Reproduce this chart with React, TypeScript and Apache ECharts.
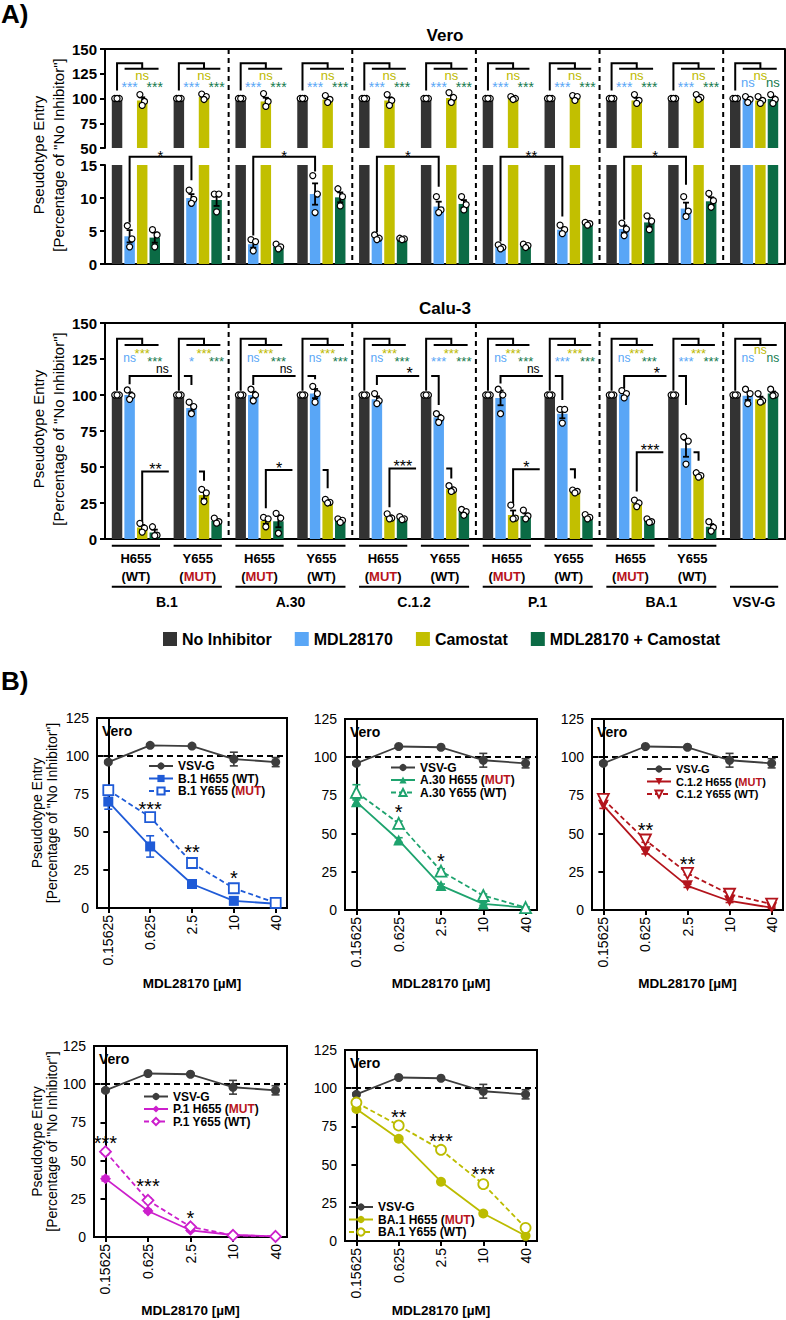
import React, { useEffect, useRef } from "react";
import * as echarts from "echarts";

const FONT = "'Liberation Sans', Arial, Helvetica, sans-serif";
const RED_TAG = "#b8141c";

// ---------------- Panel A : categories ----------------
const categories = ["B.1 H655", "B.1 Y655", "A.30 H655", "A.30 Y655", "C.1.2 H655", "C.1.2 Y655", "P.1 H655", "P.1 Y655", "BA.1 H655", "BA.1 Y655", "VSV-G"];
const residueLabels = ["H655", "Y655", "H655", "Y655", "H655", "Y655", "H655", "Y655", "H655", "Y655", ""];
const residueTags = ["WT", "MUT", "MUT", "WT", "MUT", "WT", "MUT", "WT", "MUT", "WT", ""];
const groupLabels = ["B.1", "A.30", "C.1.2", "P.1", "BA.1", "VSV-G"];
const treatments = ["No Inhibitor", "MDL28170", "Camostat", "MDL28170 + Camostat"];
const treatmentColors = ["#333333", "#59a6f6", "#c2bf00", "#0b6b45"];
const sigTextColors = ["#000000", "#59a6f6", "#bdb900", "#137a4e"];

// ---------------- Panel A : Vero ----------------
const veroNoInhibitor = [100, 100, 100, 100, 100, 100, 100, 100, 100, 100, 100];
const veroMDL = [4.2, 10.0, 3.0, 10.6, 4.0, 8.7, 2.6, 5.2, 5.3, 8.4, 99];
const veroCamostat = [98, 101.5, 97, 99, 98, 100.5, 100, 100.5, 98, 100, 98];
const veroCombo = [4.0, 9.7, 2.6, 10.1, 3.8, 9.1, 2.8, 6.1, 6.3, 9.5, 99.5];

const veroNoInhibitorReps = [[100, 100, 100], [100, 100, 100], [100, 100, 100], [100, 100, 100], [100, 100, 100], [100, 100, 100], [100, 100, 100], [100, 100, 100], [100, 100, 100], [100, 100, 100], [100, 100, 100]];
const veroMDLReps = [[5.8, 3.8, 2.6], [11.2, 9.8, 9.2], [3.7, 3.4, 2.0], [13.4, 10.6, 7.8], [4.4, 3.9, 3.7], [10.2, 8.2, 7.8], [2.9, 2.5, 2.3], [5.9, 5.2, 4.6], [6.2, 5.3, 4.3], [10.2, 8.0, 7.2], [102, 99, 96]];
const veroCamostatReps = [[104, 97, 93], [104.5, 102, 99], [105, 97, 92], [103, 99, 96], [104, 98, 93], [106, 101, 96], [102, 100, 99], [103, 102, 98], [104, 98, 95], [104, 101, 99], [102, 98, 95]];
const veroComboReps = [[5.2, 4.4, 2.6], [10.6, 10.6, 7.9], [3.0, 2.6, 2.3], [11.4, 10.2, 8.8], [3.9, 3.8, 3.7], [10.2, 9.0, 8.2], [3.0, 2.8, 2.5], [6.3, 6.1, 5.9], [7.3, 6.5, 5.2], [10.7, 9.6, 8.6], [104, 99, 95]];

const veroSigCam = ["ns", "ns", "ns", "ns", "ns", "ns", "ns", "ns", "ns", "ns", "ns"];
const veroSigMDL = ["***", "***", "***", "***", "***", "***", "***", "***", "***", "***", "ns"];
const veroSigCombo = ["***", "***", "***", "***", "***", "***", "***", "***", "***", "***", "ns"];
const veroPairSig = ["*", "*", "*", "**", "*"];
const veroPairFrom = [6.3, 4.3, 4.8, 3.4, 6.7];
const veroPairTo = [12.7, 14, 11.7, 7.2, 12];

// ---------------- Panel A : Calu-3 ----------------
const caluNoInhibitor = [100, 100, 100, 100, 100, 100, 100, 100, 100, 100, 100];
const caluMDL = [100, 91, 100, 101, 97, 84.5, 98, 87, 100.5, 63, 99.5];
const caluCamostat = [8, 30.5, 12.5, 26, 15.3, 34.7, 16.7, 33, 24.8, 44.5, 97];
const caluCombo = [4.5, 12.5, 12.3, 13, 14.3, 18.7, 16, 15.3, 12.5, 8.5, 101];

const caluNoInhibitorReps = [[100, 100, 100], [100, 100, 100], [100, 100, 100], [100, 100, 100], [100, 100, 100], [100, 100, 100], [100, 100, 100], [100, 100, 100], [100, 100, 100], [100, 100, 100], [100, 100, 100]];
const caluMDLReps = [[103.5, 99.5, 97], [95, 92, 87], [104, 100, 96], [106, 101, 95], [101, 96, 94], [87, 84, 81], [104, 100, 87], [90, 90, 80.5], [103, 101, 98], [71, 68, 52], [104, 101, 94]];
const caluCamostatReps = [[10.9, 7.5, 4.8], [34.5, 32, 26], [15, 14, 8.5], [27.5, 25.5, 25], [17.5, 14.5, 14], [37, 34, 33], [23.5, 14.5, 14], [34, 33, 32], [27, 25, 22.5], [46, 44, 43], [101, 96, 95]];
const caluComboReps = [[8.5, 2.6, 2.3], [14.5, 12, 11], [17.8, 14.5, 4], [14, 13, 11.5], [15.5, 14, 13.5], [20.5, 19, 16.5], [20, 16, 14], [17, 15, 14], [14, 12, 11.5], [12, 8, 5.5], [104, 100, 99.5]];

const caluSigCam = ["***", "***", "***", "***", "***", "***", "***", "***", "***", "***", "ns"];
const caluSigMDL = ["ns", "*", "ns", "ns", "ns", "***", "ns", "***", "ns", "***", "ns"];
const caluSigCombo = ["***", "***", "***", "***", "***", "***", "***", "***", "***", "***", "ns"];
const caluMdlPairSig = ["ns", "ns", "*", "ns", "*"];
const caluMdlPairFrom = [107.4, 107, 107, 108, 104.6];
const caluMdlPairTo = [107, 111, 93, 96.5, 93];
const caluCamPairSig = ["**", "*", "***", "*", "***"];
const caluCamPairFrom = [10.9, 21.3, 22, 23.6, 32.9];
const caluCamPairLevel = [46.8, 48, 49, 48.4, 60.2];
const caluCamPairTo = [40.5, 35.2, 42, 42, 54.4];

// ---------------- Panel B ----------------
const concLabels = ["0.15625", "0.625", "2.5", "10", "40"];
const vsvgEntry = [96, 107, 106.5, 98, 96];
const vsvgErr = [1, 0.8, 0.8, 4.5, 3];
const b1H655 = [70, 40.5, 15.8, 4.7, 2.8];
const b1H655Err = [5, 7, 1, 0.8, 0.5];
const b1Y655 = [77.5, 59.8, 29.6, 13, 3.4];
const b1Y655Err = [3, 1.5, 1.5, 1, 0.5];
const a30H655 = [70.8, 45.8, 16, 4, 1.6];
const a30H655Err = [2, 1.5, 1, 1, 0.5];
const a30Y655 = [77, 56.7, 25.5, 9.5, 1.6];
const a30Y655Err = [5, 1.5, 1.5, 1, 0.5];
const c12H655 = [68.5, 38.2, 15.8, 5.9, 1.5];
const c12H655Err = [2, 1.5, 1, 1, 0.5];
const c12Y655 = [72.4, 45.8, 24, 10.3, 3.9];
const c12Y655Err = [1.5, 1.5, 1, 1, 0.5];
const p1H655 = [38.2, 17, 4.4, 1.3, 0.4];
const p1H655Err = [1.5, 1, 0.8, 0.5, 0.3];
const p1Y655 = [55.8, 24, 6.7, 1.1, 0.4];
const p1Y655Err = [1.5, 1.5, 1, 0.5, 0.3];
const ba1H655 = [86.4, 66.9, 38.8, 18, 3.4];
const ba1H655Err = [1.5, 1, 1, 1, 0.5];
const ba1Y655 = [90.6, 75.6, 59.7, 37.2, 8.6];
const ba1Y655Err = [1.5, 1, 1, 1, 1];
const b1Stars = [[1, 68, "***"], [2, 40, "**"], [3, 22.8, "*"]];
const a30Stars = [[1, 66.8, "*"], [2, 35, "*"]];
const c12Stars = [[1, 55, "**"], [2, 32.7, "**"]];
const p1Stars = [[0, 64.6, "***"], [1, 36.5, "***"], [2, 15.5, "*"]];
const ba1Stars = [[1, 84, "**"], [2, 68.4, "***"], [3, 47, "***"]];

// ---------------- helpers ----------------
const PITCH = ((1 - 0.22) / 4.6) * 1.2; // bar slot distance in category units
const U = (c: number, s: number, adj = 0) => c + (s - 1.5 + adj) * PITCH;
const DOT_OFF = [-2.3, 2.3, 0];

function semOf(r: number[]) {
  const m = r.reduce((a, b) => a + b, 0) / r.length;
  const v = r.reduce((a, b) => a + (b - m) * (b - m), 0) / (r.length - 1);
  return Math.sqrt(v / r.length);
}

function textNode(x: number, y: number, t: string, color: string, fs: number, fw = "normal", align = "center") {
  let dy = 0;
  if (/^\*+$/.test(t)) dy = 0.22 * fs;
  else if (/^[a-z]+$/.test(t)) dy = -0.09 * fs;
  return {
    type: "text",
    x,
    y: y + dy,
    style: {
      text: t, fill: color, fontSize: fs, fontWeight: fw, fontFamily: FONT,
      align, verticalAlign: "middle", textAlign: align, textVerticalAlign: "middle",
    },
  };
}

function annSeries(xi: number, yi: number, anns: any[]) {
  return {
    type: "custom", xAxisIndex: xi, yAxisIndex: yi, z: 1, silent: true, clip: false,
    data: anns.map((_, i) => [0, 0, i]),
    renderItem: (params: any, api: any) => {
      const a = anns[params.dataIndex];
      const cs = params.coordSys;
      const o = api.coord([0, 0]);
      const band = api.coord([1, 0])[0] - o[0];
      const X = (u: number) => o[0] + u * band;
      const Y = (v: number) => api.coord([0, v])[1];
      const bottom = cs.y + cs.height;
      if (a.k === "poly") {
        return { type: "polyline", shape: { points: a.pts.map((p: number[]) => [X(p[0]), Y(p[1])]) }, style: { stroke: "#000", lineWidth: 2, fill: null } };
      }
      if (a.k === "text") return textNode(X(a.u), Y(a.v), a.t, a.c, a.fs, a.fw || "normal");
      if (a.k === "frame") {
        return { type: "line", shape: { x1: X(a.u), y1: cs.y - (a.up || 0), x2: X(a.u), y2: bottom + (a.down || 0) }, style: { stroke: "#000", lineWidth: 2, lineDash: a.dash ? [5, 4] : null } };
      }
      if (a.k === "uline") {
        return { type: "line", shape: { x1: X(a.u0), y1: bottom + a.dy, x2: X(a.u1), y2: bottom + a.dy }, style: { stroke: "#000", lineWidth: 2 } };
      }
      if (a.k === "utext") return textNode(X(a.u), bottom + a.dy, a.t, "#000", 14, "bold");
      return null;
    },
  };
}

function dotsSeries(xi: number, yi: number, lo: number, hi: number, means: number[][], reps: number[][][]) {
  const data: number[][] = [];
  means.forEach((arr, s) => arr.forEach((m, c) => data.push([c, m, s])));
  return {
    type: "custom", xAxisIndex: xi, yAxisIndex: yi, z: 4, silent: true, clip: false,
    data,
    renderItem: (params: any, api: any) => {
      const c = api.value(0), m = api.value(1), s = api.value(2);
      const r = reps[s][c];
      const o = api.coord([0, lo]);
      const band = api.coord([1, lo])[0] - o[0];
      const cx = o[0] + U(c, s) * band;
      const Y = (v: number) => api.coord([0, v])[1];
      const children: any[] = [];
      const e = semOf(r);
      const st = { stroke: "#000", lineWidth: 1.8 };
      if (e > 0.05 && m - e >= lo && m + e <= hi) {
        const y1 = Y(m + e), y2 = Y(m - e);
        children.push({ type: "line", shape: { x1: cx, y1, x2: cx, y2 }, style: st });
        children.push({ type: "line", shape: { x1: cx - 3, y1, x2: cx + 3, y2: y1 }, style: st });
        children.push({ type: "line", shape: { x1: cx - 3, y1: y2, x2: cx + 3, y2 }, style: st });
      }
      r.forEach((v, k) => {
        if (v >= lo && v <= hi) {
          children.push({ type: "circle", shape: { cx: cx + DOT_OFF[k], cy: Y(v), r: 3 }, style: { fill: "#fff", stroke: "#000", lineWidth: 1.2 } });
        }
      });
      return { type: "group", children };
    },
  };
}

function mainBrackets(cfg: any, cam: string[], mdl: string[], combo: string[], nsFs: number, starFs: number) {
  const out: any[] = [];
  const labs = [cam, mdl, combo];
  for (let c = 0; c < categories.length; c++) {
    out.push({ k: "poly", pts: [[U(c, 0), cfg.base], [U(c, 0), cfg.top], [U(c, 2), cfg.top], [U(c, 2), cfg.mid]] });
    out.push({ k: "poly", pts: [[U(c, 1, -0.4), cfg.mid], [U(c, 3, 0.3), cfg.mid]] });
    const pos = [[U(c, 2), cfg.camY], [U(c, 1), cfg.lowY], [U(c, 3), cfg.lowY]];
    labs.forEach((L, j) => {
      const t = L[c];
      out.push({ k: "text", u: pos[j][0], v: pos[j][1], t, c: sigTextColors[j === 0 ? 2 : j === 1 ? 1 : 3], fs: t.includes("*") ? starFs : nsFs });
    });
  }
  return out;
}

function frames(seps: number[], up: number, down: number) {
  const out: any[] = seps.map((u) => ({ k: "frame", u, dash: true, up, down }));
  out.push({ k: "frame", u: categories.length - 0.5, dash: false, up, down });
  return out;
}

const SEPS = [1.5, 3.5, 5.5, 7.5, 9.5];

function gText(x: number, y: number, text: string, fs: number, fw = "normal", align = "center", extra: any = {}) {
  return {
    type: "text", x, y, silent: true, ...extra,
    style: { text, fill: "#000", fontSize: fs, fontWeight: fw, fontFamily: FONT, align, verticalAlign: "middle", textAlign: align, textVerticalAlign: "middle", lineHeight: extra.lineHeight },
  };
}

function buildOption() {
  const veroMeans = [veroNoInhibitor, veroMDL, veroCamostat, veroCombo];
  const veroReps = [veroNoInhibitorReps, veroMDLReps, veroCamostatReps, veroComboReps];
  const caluMeans = [caluNoInhibitor, caluMDL, caluCamostat, caluCombo];
  const caluReps = [caluNoInhibitorReps, caluMDLReps, caluCamostatReps, caluComboReps];

  const gridBase = { containLabel: false, outerBoundsMode: "none" };
  const grids: any[] = [
    { ...gridBase, left: 105, top: 49, width: 680, height: 99 },
    { ...gridBase, left: 105, top: 165, width: 680, height: 99 },
    { ...gridBase, left: 105, top: 323, width: 680, height: 216, show: true, borderColor: "#000", borderWidth: 2 },
  ];
  const axisLine = { show: true, lineStyle: { color: "#000", width: 2 } };
  const yTick = { show: true, length: 5, inside: false, lineStyle: { color: "#000", width: 2 } };
  const yLabA = { color: "#000", fontSize: 15, fontWeight: "bold", margin: 8, fontFamily: FONT };
  const xAxes: any[] = [
    { type: "category", gridIndex: 0, data: categories, position: "top", axisLine, axisTick: { show: false }, axisLabel: { show: false }, splitLine: { show: false } },
    { type: "category", gridIndex: 1, data: categories, axisLine, axisTick: { show: false }, axisLabel: { show: false }, splitLine: { show: false } },
    {
      type: "category", gridIndex: 2, data: categories, axisLine, axisTick: { show: false }, splitLine: { show: false },
      axisLabel: {
        interval: 0, margin: 10, color: "#000", fontFamily: FONT, fontSize: 13, fontWeight: "bold", lineHeight: 18,
        formatter: (_v: string, i: number) => {
          if (!residueLabels[i]) return "";
          const tag = residueTags[i] === "MUT" ? `{r|MUT}` : `{p|${residueTags[i]}}`;
          return `{p|${residueLabels[i]}}\n{p|(}${tag}{p|)}`;
        },
        rich: {
          p: { color: "#000", fontSize: 13, fontWeight: "bold", fontFamily: FONT, lineHeight: 18 },
          r: { color: RED_TAG, fontSize: 13, fontWeight: "bold", fontFamily: FONT, lineHeight: 18 },
        },
      },
    },
  ];
  const yAxes: any[] = [
    { type: "value", gridIndex: 0, min: 50, max: 150, interval: 25, axisLine, axisTick: yTick, axisLabel: yLabA, splitLine: { show: false } },
    { type: "value", gridIndex: 1, min: 0, max: 15, interval: 5, axisLine, axisTick: yTick, axisLabel: yLabA, splitLine: { show: false } },
    { type: "value", gridIndex: 2, min: 0, max: 150, interval: 25, axisLine, axisTick: yTick, axisLabel: yLabA, splitLine: { show: false } },
  ];

  const series: any[] = [];
  // bars
  treatments.forEach((name, s) => {
    const common = { type: "bar", name, barGap: "20%", barCategoryGap: "22%", itemStyle: { color: treatmentColors[s] }, z: 2, silent: true };
    series.push({ ...common, xAxisIndex: 0, yAxisIndex: 0, data: veroMeans[s].map((v) => (v >= 50 ? v : "-")) });
    series.push({ ...common, xAxisIndex: 1, yAxisIndex: 1, data: veroMeans[s].slice() });
    series.push({ ...common, xAxisIndex: 2, yAxisIndex: 2, data: caluMeans[s].slice() });
  });
  series.push(dotsSeries(0, 0, 50, 150, veroMeans, veroReps));
  series.push(dotsSeries(1, 1, 0, 15, veroMeans, veroReps));
  series.push(dotsSeries(2, 2, 0, 150, caluMeans, caluReps));

  // Vero annotations (top segment)
  const veroTopAnn = [
    ...mainBrackets({ base: 108, top: 135.7, mid: 130, camY: 122, lowY: 115 }, veroSigCam, veroSigMDL, veroSigCombo, 13, 14),
    ...frames(SEPS, 0, 17),
  ];
  // Vero annotations (bottom segment)
  const veroBotAnn: any[] = [...frames(SEPS, 0, 0)];
  veroPairSig.forEach((t, g) => {
    const c = 2 * g;
    const lev = 16.26;
    veroBotAnn.push({ k: "poly", pts: [[U(c, 1), veroPairFrom[g]], [U(c, 1), lev], [U(c + 1, 1), lev], [U(c + 1, 1), veroPairTo[g]]] });
    veroBotAnn.push({ k: "text", u: (U(c, 1) + U(c + 1, 1)) / 2, v: 17.0, t, c: "#000", fs: 15 });
  });
  // Calu annotations
  const caluAnn: any[] = [
    ...mainBrackets({ base: 103, top: 139, mid: 134.7, camY: 130.6, lowY: 125 }, caluSigCam, caluSigMDL, caluSigCombo, 12, 13),
    ...frames(SEPS, 0, 0),
  ];
  caluMdlPairSig.forEach((t, g) => {
    const c = 2 * g;
    const lev = 113.2;
    caluAnn.push({ k: "poly", pts: [[U(c, 1), caluMdlPairFrom[g]], [U(c, 1), lev], [U(c + 1, 0, -0.55), lev]] });
    caluAnn.push({ k: "poly", pts: [[U(c + 1, 0, 0.4), lev], [U(c + 1, 1), lev], [U(c + 1, 1), caluMdlPairTo[g]]] });
    caluAnn.push({ k: "text", u: (U(c, 1) + U(c + 1, 1)) / 2 + 0.03, v: 117.2, t, c: "#000", fs: t.includes("*") ? 16 : 12 });
  });
  caluCamPairSig.forEach((t, g) => {
    const c = 2 * g;
    const lev = caluCamPairLevel[g];
    caluAnn.push({ k: "poly", pts: [[U(c, 2), caluCamPairFrom[g]], [U(c, 2), lev], [U(c + 1, 0, -0.8), lev]] });
    caluAnn.push({ k: "poly", pts: [[U(c + 1, 1, 0.6), lev], [U(c + 1, 2), lev], [U(c + 1, 2), caluCamPairTo[g]]] });
    caluAnn.push({ k: "text", u: (U(c, 2) + U(c + 1, 0, -0.8)) / 2, v: lev + 3.6, t, c: "#000", fs: 16 });
  });
  for (let c = 0; c < 10; c++) caluAnn.push({ k: "uline", u0: c - 0.39, u1: c + 0.39, dy: 6.7 });
  groupLabels.forEach((gl, g) => {
    const c0 = 2 * g;
    const c1 = g === 5 ? 10 : 2 * g + 1;
    const a = g === 5 ? 10 : c0;
    caluAnn.push({ k: "uline", u0: a - 0.39, u1: c1 + 0.39, dy: 47.7 });
    caluAnn.push({ k: "utext", u: (a + c1) / 2, dy: 62.5, t: gl });
  });
  series.push(annSeries(0, 0, veroTopAnn));
  series.push(annSeries(1, 1, veroBotAnn));
  series.push(annSeries(2, 2, caluAnn));

  const legends: any[] = [
    {
      data: treatments, left: 163, top: 631, orient: "horizontal", icon: "rect", itemWidth: 14, itemHeight: 14, itemGap: 23,
      selectedMode: false, padding: 0, textStyle: { fontFamily: FONT, fontSize: 16, fontWeight: "bold", color: "#000" },
    },
  ];

  const graphics: any[] = [
    gText(1, 14, "A)", 26, "bold", "left"),
    gText(445, 35, "Vero", 17, "bold"),
    gText(445, 308.5, "Calu-3", 17, "bold"),
    gText(48, 155, 'Pseudotype Entry\n[Percentage of "No Inhibitor"]', 15, "normal", "center", { rotation: Math.PI / 2, lineHeight: 20 }),
    gText(48, 429, 'Pseudotype Entry\n[Percentage of "No Inhibitor"]', 15, "normal", "center", { rotation: Math.PI / 2, lineHeight: 20 }),
    gText(1, 681, "B)", 26, "bold", "left"),
  ];

  // ---------------- Panel B ----------------
  const bCharts = [
    { strain: "B.1", color: "#1f5bd7", sym: "rect", rot: 0, size: 10, h: b1H655, hErr: b1H655Err, y: b1Y655, yErr: b1Y655Err, hTag: "WT", yTag: "MUT", stars: b1Stars,
      box: [97, 718, 190, 190], leg: [148, 760, 12], yTitle: true },
    { strain: "A.30", color: "#1ea36e", sym: "triangle", rot: 0, size: 11, h: a30H655, hErr: a30H655Err, y: a30Y655, yErr: a30Y655Err, hTag: "MUT", yTag: "WT", stars: a30Stars,
      box: [345, 719, 192, 191], leg: [390, 761.5, 12], yTitle: false },
    { strain: "C.1.2", color: "#b3141c", sym: "triangle", rot: 180, size: 11, h: c12H655, hErr: c12H655Err, y: c12Y655, yErr: c12Y655Err, hTag: "MUT", yTag: "WT", stars: c12Stars,
      box: [592, 719, 191, 191], leg: [646, 763, 11], yTitle: false },
    { strain: "P.1", color: "#cc1fcc", sym: "diamond", rot: 0, size: 11, h: p1H655, hErr: p1H655Err, y: p1Y655, yErr: p1Y655Err, hTag: "MUT", yTag: "WT", stars: p1Stars,
      box: [94, 1046, 193, 191], leg: [143, 1090.5, 12], yTitle: true },
    { strain: "BA.1", color: "#bcbc00", sym: "circle", rot: 0, size: 10, h: ba1H655, hErr: ba1H655Err, y: ba1Y655, yErr: ba1Y655Err, hTag: "MUT", yTag: "WT", stars: ba1Stars,
      box: [345, 1050, 192, 191], leg: [348, 1201, 12], yTitle: false },
  ];
  const VSV = "#3d3d3d";

  bCharts.forEach((ch, k) => {
    const gi = 3 + k;
    const [left, top, width, height] = ch.box;
    const titleY = k < 3 ? 983 : 1310.5;
    grids.push({ ...gridBase, left, top, width, height, show: true, borderColor: "#000", borderWidth: 2 });
    xAxes.push({
      type: "value", gridIndex: gi, min: -0.27, max: 4.27, axisLine, splitLine: { show: false },
      axisTick: { show: true, customValues: [0, 1, 2, 3, 4], length: 5, lineStyle: { color: "#000", width: 2 } },
      axisLabel: { customValues: [0, 1, 2, 3, 4], rotate: 90, margin: 7, color: "#000", fontSize: 14, fontFamily: FONT, formatter: (v: number) => concLabels[Math.round(v)] || "" },
      name: "MDL28170 [µM]", nameLocation: "middle", nameGap: titleY - 7 - (top + height), nameTextStyle: { color: "#000", fontSize: 13.5, fontWeight: "bold", fontFamily: FONT },
    });
    yAxes.push({
      type: "value", gridIndex: gi, min: 0, max: 125, interval: 25, axisLine, splitLine: { show: false },
      axisTick: yTick, axisLabel: { color: "#000", fontSize: 14, margin: 8, fontFamily: FONT },
    });
    const pts = (arr: number[]) => arr.map((v, i) => [i, v]);
    const hName = `${ch.strain} H655 (${ch.hTag})`;
    const yName = `${ch.strain} Y655 (${ch.yTag})`;
    series.push({
      type: "line", name: "VSV-G", xAxisIndex: gi, yAxisIndex: gi, data: pts(vsvgEntry), symbol: "circle", symbolSize: 9, color: VSV,
      lineStyle: { color: VSV, width: 1.8 }, itemStyle: { color: VSV }, z: 5, silent: true,
      markLine: { silent: true, symbol: ["none", "none"], label: { show: false }, lineStyle: { color: "#000", type: [6, 4], width: 1.8 }, data: [{ yAxis: 100 }] },
    });
    series.push({
      type: "line", name: hName, xAxisIndex: gi, yAxisIndex: gi, data: pts(ch.h), symbol: ch.sym, symbolRotate: ch.rot, symbolSize: ch.size, color: ch.color,
      lineStyle: { color: ch.color, width: 1.8 }, itemStyle: { color: ch.color }, z: 5, silent: true,
    });
    series.push({
      type: "line", name: yName, xAxisIndex: gi, yAxisIndex: gi, data: pts(ch.y), symbol: ch.sym, symbolRotate: ch.rot, symbolSize: ch.size, color: ch.color,
      lineStyle: { color: ch.color, width: 1.8, type: [5, 3] }, itemStyle: { color: "#fff", borderColor: ch.color, borderWidth: 1.8 }, z: 6, silent: true,
    });
    const errPairs: [number[], number[], string][] = [[vsvgEntry, vsvgErr, VSV], [ch.h, ch.hErr, ch.color], [ch.y, ch.yErr, ch.color]];
    errPairs.forEach(([means, errs, color]) => {
      series.push({
        type: "custom", xAxisIndex: gi, yAxisIndex: gi, z: 4, silent: true, clip: false,
        data: means.map((m, i) => [i, m, errs[i]]),
        renderItem: (_p: any, api: any) => {
          const i = api.value(0), m = api.value(1), e = api.value(2);
          const a = api.coord([i, m + e]), b = api.coord([i, m - e]);
          const x = a[0];
          const st = { stroke: color, lineWidth: 1.6 };
          return {
            type: "group", children: [
              { type: "line", shape: { x1: x, y1: a[1], x2: x, y2: b[1] }, style: st },
              { type: "line", shape: { x1: x - 4, y1: a[1], x2: x + 4, y2: a[1] }, style: st },
              { type: "line", shape: { x1: x - 4, y1: b[1], x2: x + 4, y2: b[1] }, style: st },
            ],
          };
        },
      });
    });
    const stars = ch.stars;
    series.push({
      type: "custom", xAxisIndex: gi, yAxisIndex: gi, z: 7, silent: true, clip: false,
      data: stars.map((s) => [s[0], s[1]]),
      renderItem: (params: any, api: any) => {
        const p = api.coord([api.value(0), api.value(1)]);
        return textNode(p[0], p[1], String(stars[params.dataIndex][2]), "#000", 20);
      },
    });
    const fs = ch.leg[2];
    legends.push({
      data: ["VSV-G", hName, yName], left: ch.leg[0], top: ch.leg[1], orient: "vertical", itemWidth: 24, itemHeight: 9, itemGap: 0.5,
      selectedMode: false, padding: 0,
      formatter: (name: string) => name.replace("(MUT)", "({r|MUT})"),
      textStyle: {
        fontFamily: FONT, fontSize: fs, fontWeight: "bold", color: "#000", lineHeight: 12,
        rich: { r: { color: RED_TAG, fontSize: fs, fontWeight: "bold", fontFamily: FONT, lineHeight: 12 } },
      },
    });
    graphics.push(gText(left + 5, top + 13, "Vero", 14, "bold", "left"));
    if (ch.yTitle) {
      graphics.push(gText(44.5, top + height / 2, 'Pseudotype Entry\n[Percentage of "No Inhibitor"]', 14, "normal", "center", { rotation: Math.PI / 2, lineHeight: 15.5 }));
    }
  });

  return {
    animation: false,
    backgroundColor: "#fff",
    textStyle: { fontFamily: FONT },
    grid: grids,
    xAxis: xAxes,
    yAxis: yAxes,
    legend: legends,
    graphic: { elements: graphics },
    series,
  };
}

export default function App() {
  const ref = useRef<HTMLDivElement>(null);
  useEffect(() => {
    const chart = echarts.init(ref.current as HTMLDivElement, null, { renderer: "svg" });
    chart.setOption(buildOption() as any);
    return () => chart.dispose();
  }, []);
  return <div ref={ref} style={{ position: "absolute", left: 0, top: 0, width: 786, height: 1320, background: "#fff" }} />;
}
